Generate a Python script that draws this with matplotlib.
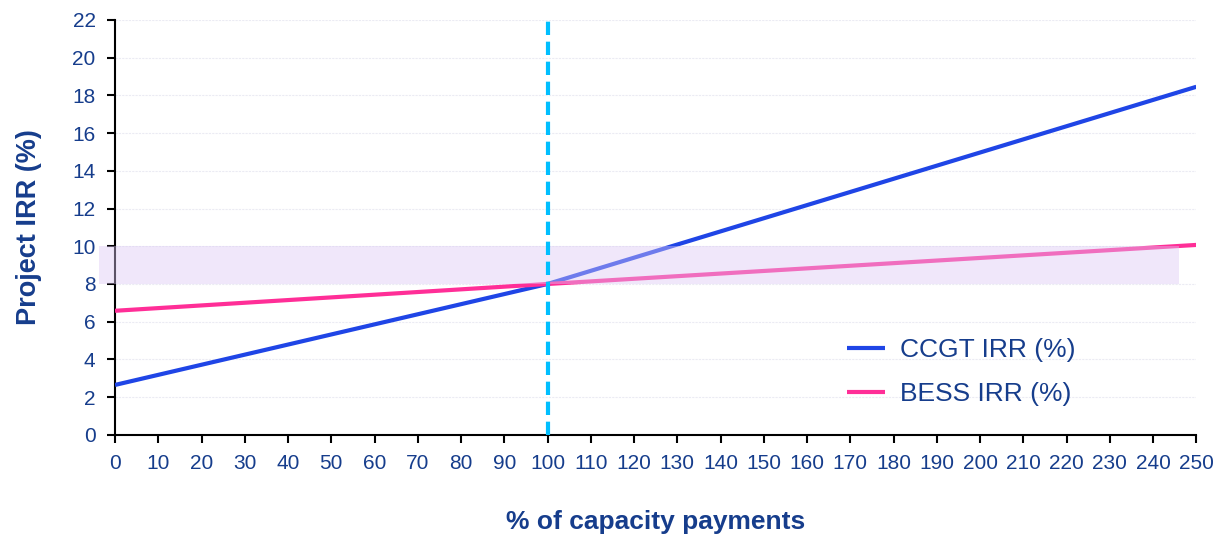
import numpy as np
import matplotlib.pyplot as plt

plt.rcParams['font.family'] = ['Liberation Sans', 'DejaVu Sans']

# capacity payment level (% of reference) and project IRR (%)
cap_pct = [0, 100, 250]
ccgt_irr = [2.65, 8.0, 18.45]
bess_irr = [6.58, 8.0, 10.07]
target_band = [8, 10]
band_x = [-3.7, 246]
ref_level = 100

navy = '#163d8c'

fig = plt.figure(figsize=(12.17, 5.35), dpi=100)
ax = fig.add_axes([0.0945, 0.187, 0.8885, 0.776])

ax.plot(cap_pct, ccgt_irr, color='#1f45e6', lw=3, label='CCGT IRR (%)', zorder=3,
        solid_capstyle='butt')
ax.plot(cap_pct, bess_irr, color='#ff2e97', lw=3, label='BESS IRR (%)', zorder=3,
        solid_capstyle='butt')

# hurdle rate band sits over the lines
ax.fill_between(band_x, target_band[0], target_band[1], color='#dcc8f5', alpha=0.42,
                lw=0, zorder=4, clip_on=False)

ax.axvline(ref_level, color='#00bfff', lw=3, ls=(0, (3.2, 1.6)), zorder=5)

ax.set_xlim(0, 250)
ax.set_ylim(0, 22)
ax.set_xticks(np.arange(0, 251, 10))
ax.set_yticks(np.arange(0, 23, 2))
ax.yaxis.grid(True, color='#ebebf3', lw=0.8, ls=(0, (2, 1)))
ax.set_axisbelow(True)

for s in ['top', 'right']:
    ax.spines[s].set_visible(False)
for s in ['left', 'bottom']:
    ax.spines[s].set_linewidth(1.5)
    ax.spines[s].set_color('black')

ax.tick_params(axis='both', colors='black', labelcolor=navy, labelsize=15,
               width=1.5, length=6)
ax.tick_params(axis='x', pad=8)
ax.tick_params(axis='y', pad=8)

ax.set_xlabel('% of capacity payments', fontsize=19, fontweight='bold', color=navy,
              labelpad=26)
ax.set_ylabel('Project IRR (%)', fontsize=19.5, fontweight='bold', color=navy,
              labelpad=22)

ax.legend(loc='lower left', bbox_to_anchor=(0.655, 0.012), frameon=False, fontsize=19,
          labelcolor=navy, handlelength=1.45, handletextpad=0.55, labelspacing=0.75)

fig.savefig('out.png', dpi=100, facecolor='white')
